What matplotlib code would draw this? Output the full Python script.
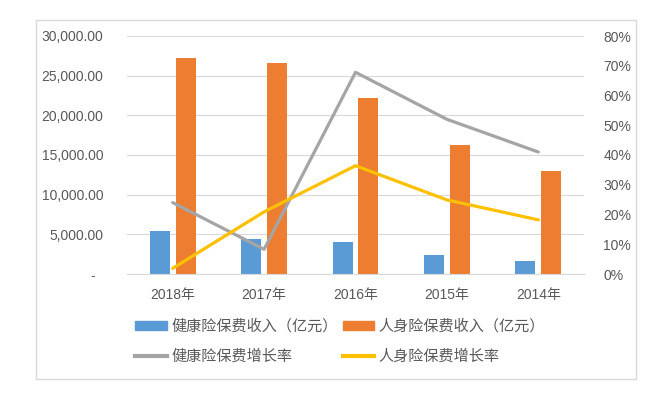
import numpy as np
import matplotlib
matplotlib.use("Agg")
import matplotlib.pyplot as plt
from matplotlib.patches import Rectangle, Patch
from matplotlib.lines import Line2D
from matplotlib.ticker import FuncFormatter, PercentFormatter

plt.rcParams['font.family'] = ['Liberation Sans', 'Noto Sans CJK SC', 'DejaVu Sans']

years = ["2018年", "2017年", "2016年", "2015年", "2014年"]
health_income = [5448, 4389, 4042, 2410, 1587]
life_income = [27247, 26600, 22235, 16288, 13031]
health_growth = [0.240, 0.083, 0.678, 0.520, 0.410]
life_growth = [0.019, 0.209, 0.364, 0.249, 0.182]

blue, orange, gray, yellow = "#5B9BD5", "#ED7D31", "#A5A5A5", "#FFC000"
txt = "#595959"
W, H = 663, 397

fig = plt.figure(figsize=(W / 100, H / 100), dpi=100)
fig.patches.append(Rectangle((35.5 / W, 1 - 378.5 / H), 600 / W, 359 / H,
                             transform=fig.transFigure, fill=False,
                             edgecolor="#D9D9D9", linewidth=1))

ax = fig.add_axes([127 / W, 1 - 274 / H, 457 / W, 238 / H])
x = np.arange(len(years))
ax.bar(x - 0.142, health_income, width=0.219, color=blue, zorder=2)
ax.bar(x + 0.142, life_income, width=0.219, color=orange, zorder=2)
ax.set_xlim(-0.5, 4.5)
ax.set_ylim(0, 30000)
ax.set_yticks(np.arange(0, 30001, 5000))
ax.yaxis.set_major_formatter(FuncFormatter(lambda v, p: "-  " if v == 0 else f"{v:,.2f}"))
ax.set_xticks(x)
ax.set_xticklabels(years)
ax.grid(axis="y", color="#D9D9D9", linewidth=0.8, zorder=0)
for s in ["top", "left", "right"]:
    ax.spines[s].set_visible(False)
ax.spines["bottom"].set_color("#D9D9D9")
ax.tick_params(axis="both", length=0, colors=txt, labelsize=10)
ax.tick_params(axis="y", pad=17)
ax.tick_params(axis="x", pad=10)

ax2 = ax.twinx()
ax2.plot(x, health_growth, color=gray, linewidth=2.3, solid_capstyle="round", solid_joinstyle="round")
ax2.plot(x, life_growth, color=yellow, linewidth=2.3, solid_capstyle="round", solid_joinstyle="round")
ax2.set_ylim(0, 0.8)
ax2.set_yticks(np.arange(0, 0.81, 0.1))
ax2.yaxis.set_major_formatter(PercentFormatter(1.0, decimals=0))
ax2.tick_params(axis="y", length=0, colors=txt, labelsize=10, pad=14)
for s in ax2.spines.values():
    s.set_visible(False)

handles = [Patch(color=blue), Line2D([], [], color=gray, linewidth=3),
           Patch(color=orange), Line2D([], [], color=yellow, linewidth=3)]
labels = ["健康险保费收入（亿元）", "健康险保费增长率",
          "人身险保费收入（亿元）", "人身险保费增长率"]
leg = fig.legend(handles, labels, ncol=2, loc="upper left",
                 bbox_to_anchor=(135 / W, 1 - 318 / H), frameon=False,
                 prop={"family": ["Noto Sans CJK SC"], "size": 10.9},
                 handlelength=2.1, handleheight=0.5, handletextpad=0.28,
                 columnspacing=0.35, labelspacing=0.85, borderpad=0,
                 borderaxespad=0)
for t in leg.get_texts():
    t.set_color(txt)

fig.savefig("out.png", dpi=100)
